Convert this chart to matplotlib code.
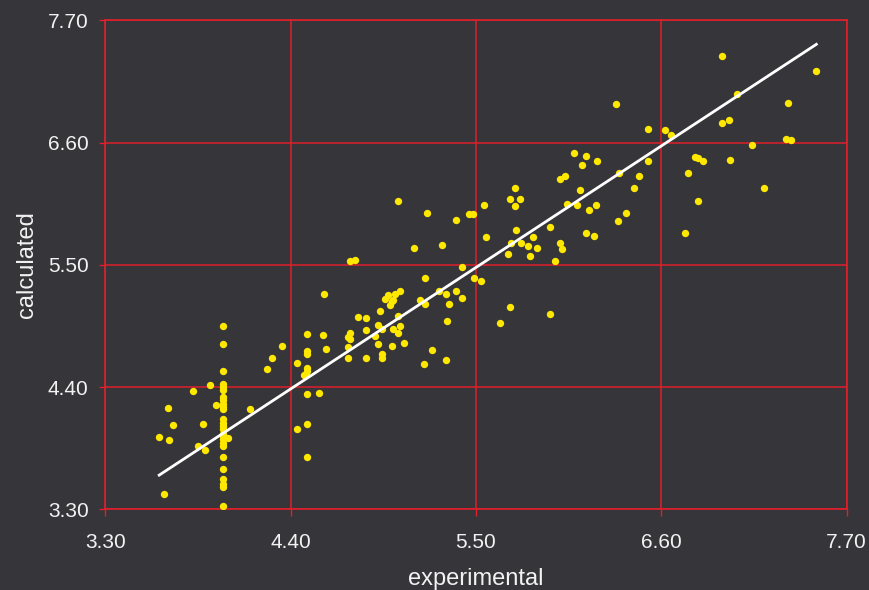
import numpy as np
import matplotlib
matplotlib.use("Agg")
import matplotlib.pyplot as plt
from matplotlib.ticker import FormatStrFormatter

# experimental vs calculated values
column_y = [4.95, 4.79, 4.54, 4.43, 4.40, 4.37, 4.31, 4.28, 4.25, 4.22, 4.20,
            4.11, 4.08, 4.05, 4.02, 3.98, 3.96, 3.93, 3.90, 3.87, 3.77, 3.66,
            3.57, 3.53, 3.50, 3.33]

other_x = [3.62, 3.65, 3.67, 3.68, 3.70, 3.82, 3.85, 3.88, 3.89, 3.92, 3.96,
           4.03, 4.16, 4.26, 4.29, 4.35, 4.44, 4.44, 4.48, 4.49, 4.50, 4.50,
           4.50, 4.50, 4.50, 4.50, 4.50, 4.50, 4.57, 4.59, 4.60, 4.61, 4.74,
           4.74, 4.74, 4.75, 4.75, 4.75, 4.78, 4.80, 4.85, 4.85, 4.85, 4.90,
           4.92, 4.92, 4.93, 4.94, 4.94, 4.94, 4.96, 4.98, 4.99, 5.00, 5.01,
           5.02, 5.05, 5.04, 5.05, 5.01, 5.04, 5.07, 5.00, 5.04, 5.13, 5.17,
           5.20, 5.20, 5.21, 5.24, 5.19, 5.28, 5.32, 5.38, 5.42, 5.34, 5.33,
           5.32, 5.30, 5.38, 5.42, 5.46, 5.48, 5.49, 5.53, 5.55, 5.56, 5.64,
           5.69, 5.70, 5.70, 5.71, 5.73, 5.73, 5.74, 5.76, 5.77, 5.81, 5.82,
           5.84, 5.86, 5.94, 5.94, 5.97, 6.00, 6.01, 6.00, 6.03, 6.04, 6.08,
           6.10, 6.12, 6.13, 6.15, 6.15, 6.17, 6.20, 6.21, 6.22, 6.33, 6.34,
           6.35, 6.39, 6.44, 6.47, 6.52, 6.52, 6.62, 6.66, 6.74, 6.76, 6.80,
           6.82, 6.85, 6.82, 6.96, 6.96, 7.00, 7.01, 7.05, 7.14, 7.21, 7.34,
           7.37, 7.35, 7.52]
other_y = [3.95, 3.44, 4.21, 3.92, 4.06, 4.36, 3.87, 4.07, 3.83, 4.42, 4.24,
           3.94, 4.20, 4.56, 4.66, 4.77, 4.62, 4.02, 4.51, 4.52, 4.54, 4.57,
           4.70, 4.72, 4.88, 4.34, 4.07, 3.77, 4.35, 4.87, 5.24, 4.74, 4.85,
           4.76, 4.66, 4.89, 4.83, 5.53, 5.54, 5.03, 5.02, 4.91, 4.66, 4.86,
           4.96, 4.79, 5.08, 4.92, 4.70, 4.66, 5.19, 5.23, 5.14, 5.17, 5.18,
           5.24, 5.26, 5.04, 4.95, 4.92, 4.89, 4.80, 4.77, 6.07, 5.65, 5.18,
           5.15, 5.38, 5.97, 4.73, 4.61, 5.26, 5.24, 5.26, 5.20, 5.15, 4.99,
           4.64, 5.68, 5.90, 5.48, 5.96, 5.96, 5.38, 5.35, 6.04, 5.75, 4.98,
           5.60, 6.09, 5.12, 5.70, 6.19, 6.03, 5.81, 6.09, 5.70, 5.67, 5.58,
           5.75, 5.65, 5.84, 5.06, 5.53, 5.70, 5.64, 6.27, 6.30, 6.05, 6.51,
           6.04, 6.17, 6.40, 6.48, 5.79, 5.99, 5.76, 6.04, 6.43, 6.95, 5.89,
           6.33, 5.97, 6.19, 6.30, 6.72, 6.43, 6.71, 6.67, 5.79, 6.33, 6.47,
           6.46, 6.43, 6.07, 7.38, 6.78, 6.80, 6.44, 7.04, 6.58, 6.19, 6.63,
           6.62, 6.96, 7.24]

experimental = np.array([4.00] * len(column_y) + other_x)
calculated = np.array(column_y + other_y)

# trend line as drawn in the reference
fit_slope = 0.994
fit_intercept = 0.009

ticks = [3.30, 4.40, 5.50, 6.60, 7.70]

bg = "#36353a"
red = "#e0202a"
txt = "#f2f2f2"
font = "Liberation Sans"

fig = plt.figure(figsize=(8.7, 5.9), dpi=100, facecolor=bg)
ax = fig.add_axes([0.121, 0.1368, 0.8522, 0.8288], facecolor=bg)

ax.scatter(experimental, calculated, s=28, color="#ffe800", linewidths=0, zorder=3)

line_x = np.array([experimental.min(), experimental.max()])
ax.plot(line_x, fit_slope * line_x + fit_intercept, color="white", lw=2, zorder=4)

ax.set_xlim(3.30, 7.70)
ax.set_ylim(3.30, 7.70)
ax.set_xticks(ticks)
ax.set_yticks(ticks)
ax.xaxis.set_major_formatter(FormatStrFormatter("%.2f"))
ax.yaxis.set_major_formatter(FormatStrFormatter("%.2f"))

ax.grid(True, color=red, lw=1.1, zorder=0)
ax.set_axisbelow(True)
for sp in ax.spines.values():
    sp.set_color(red)
    sp.set_linewidth(1.2)

ax.tick_params(axis="x", colors=red, length=5, width=1, pad=12,
               labelcolor=txt, labelsize=15)
ax.tick_params(axis="y", colors=red, length=4, width=1, pad=8,
               labelcolor=txt, labelsize=15)
for lab in ax.get_xticklabels() + ax.get_yticklabels():
    lab.set_family(font)

ax.set_xlabel("experimental", color=txt, fontsize=17, family=font)
ax.set_ylabel("calculated", color=txt, fontsize=17, family=font)
ax.xaxis.set_label_coords(0.5, -0.12)
ax.yaxis.set_label_coords(-0.091, 0.5)

fig.savefig("out.png", dpi=100, facecolor=bg)
